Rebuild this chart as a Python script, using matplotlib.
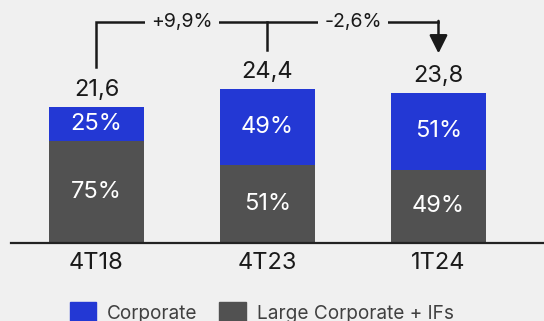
import numpy as np
import matplotlib
matplotlib.use("Agg")
import matplotlib.pyplot as plt
from matplotlib.patches import Patch

plt.rcParams['font.family'] = ['Inter', 'DejaVu Sans']

periods = ['4T18', '4T23', '1T24']
totals = [21.6, 24.4, 23.8]
corporate_pct = [25, 49, 51]
large_pct = [75, 51, 49]
changes = ['+9,9%', '-2,6%']

blue = '#2338d4'
gray = '#515151'
bg = '#f0f0f0'
txt = '#1a1a1a'

totals_a = np.array(totals)
large_vals = totals_a * np.array(large_pct) / 100
corp_vals = totals_a - large_vals
x = np.arange(len(periods))

fig = plt.figure(figsize=(5.44, 3.21), dpi=100, facecolor=bg)
ax = fig.add_axes([0, 0, 1, 1])
ax.set_facecolor(bg)
ax.set_xlim(-0.564, 2.617)
ax.set_ylim(-12.38, 38.57)
ax.axis('off')

ax.bar(x, large_vals, width=0.555, color=gray)
ax.bar(x, corp_vals, bottom=large_vals, width=0.555, color=blue)
ax.axhline(0, xmin=11 / 544, xmax=1, color='#222222', lw=1.6)

for i in range(len(periods)):
    ax.text(x[i], large_vals[i] / 2, f'{large_pct[i]}%', ha='center', va='center',
            color='white', fontsize=17)
    ax.text(x[i], large_vals[i] + corp_vals[i] / 2, f'{corporate_pct[i]}%', ha='center',
            va='center', color='white', fontsize=17)
    ax.text(x[i], totals[i] + 2.7, f'{totals[i]:.1f}'.replace('.', ','), ha='center',
            va='center', color=txt, fontsize=17)
    ax.text(x[i], -3.2, periods[i], ha='center', va='center', color=txt, fontsize=17)

# bracket with variations
top = 35.1
off = 6.3
lw = 1.8
ax.plot([x[0], x[0], x[2], x[2]], [totals[0] + off, top, top, top], color=txt, lw=lw,
        solid_joinstyle='miter')
ax.plot([x[1], x[1]], [top, totals[1] + off], color=txt, lw=lw)
ax.annotate('', xy=(x[2], totals[2] + off), xytext=(x[2], top + 0.15),
            arrowprops=dict(arrowstyle='-|>,head_length=1.1,head_width=0.55', color=txt,
                            lw=lw, shrinkA=0, shrinkB=0))
for j, lab in enumerate(changes):
    ax.text((x[j] + x[j + 1]) / 2, top, lab, ha='center', va='center', color=txt,
            fontsize=14, bbox=dict(boxstyle='square,pad=0.3', fc=bg, ec='none'))

handles = [Patch(color=blue, label='Corporate'), Patch(color=gray, label='Large Corporate + IFs')]
fig.legend(handles=handles, loc='center', bbox_to_anchor=(0.481, 0.025), ncol=2, frameon=False,
           fontsize=13.7, labelcolor='#404040', handlelength=1.37, handleheight=1.37,
           columnspacing=1.16, handletextpad=0.58)

fig.savefig('out.png', dpi=100, facecolor=bg)
